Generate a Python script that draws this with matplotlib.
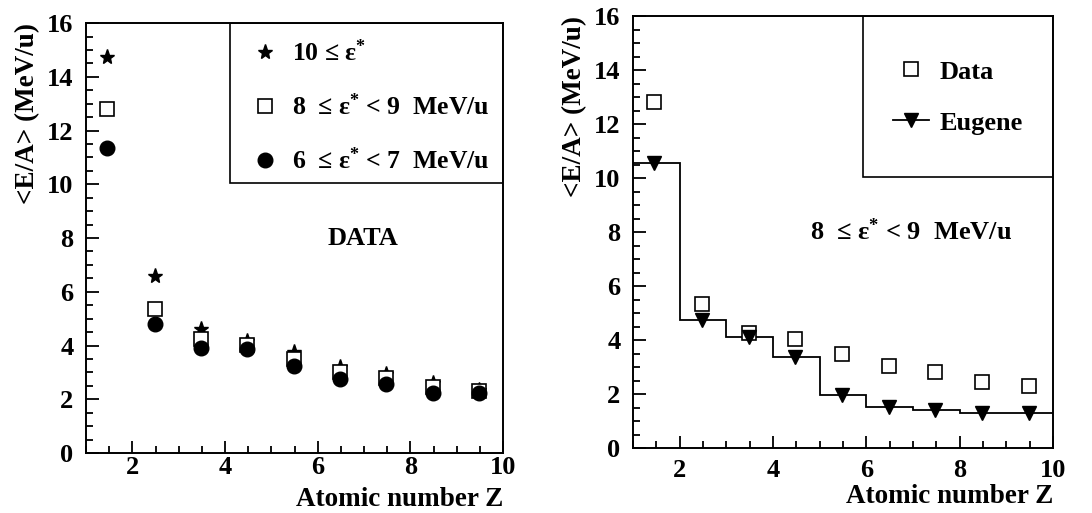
import matplotlib
matplotlib.use("Agg")
import matplotlib.pyplot as plt
from matplotlib.patches import Rectangle
from matplotlib.ticker import MultipleLocator
from matplotlib.lines import Line2D

# Mean atomic number of each fragment bin
z_mean = [1.45, 2.48, 3.48, 4.48, 5.48, 6.48, 7.48, 8.48, 9.48]
z_edges = [1, 2, 3, 4, 5, 6, 7, 8, 9, 10]

# <E/A> (MeV/u) for three excitation-energy windows
ea_eps10 = [14.75, 6.6, 4.6, 4.15, 3.75, 3.2, 2.95, 2.6, 2.35]
ea_eps8_9 = [12.8, 5.35, 4.25, 4.02, 3.5, 3.02, 2.8, 2.45, 2.3]
ea_eps6_7 = [11.35, 4.8, 3.92, 3.87, 3.22, 2.75, 2.55, 2.25, 2.22]

# EUGENE simulation for 8 <= eps* < 9 MeV/u
ea_eugene = [10.55, 4.75, 4.12, 3.38, 1.97, 1.53, 1.41, 1.28, 1.28]

plt.rcParams["font.family"] = ["Liberation Serif", "DejaVu Serif"]
plt.rcParams["font.weight"] = "bold"
plt.rcParams["mathtext.fontset"] = "custom"
plt.rcParams["mathtext.rm"] = "Liberation Serif:bold"
plt.rcParams["mathtext.it"] = "Liberation Serif:bold"
plt.rcParams["mathtext.bf"] = "Liberation Serif:bold"

fig = plt.figure(figsize=(10.92, 5.13), dpi=100)
ax1 = fig.add_axes([0.0788, 0.117, 0.382, 0.838])
ax2 = fig.add_axes([0.5797, 0.1267, 0.3846, 0.842])

TICK_FS = 19
LABEL_FS = 19.5
TEXT_FS = 18.5


def style_axes(ax, xpad, xlabelpad):
    ax.set_xlim(1, 10)
    ax.set_ylim(0, 16)
    ax.xaxis.set_major_locator(MultipleLocator(2))
    ax.xaxis.set_minor_locator(MultipleLocator(0.5))
    ax.yaxis.set_major_locator(MultipleLocator(2))
    ax.yaxis.set_minor_locator(MultipleLocator(0.5))
    ax.tick_params(which="both", direction="in", top=False, right=False,
                   width=1.3, labelsize=TICK_FS)
    ax.tick_params(which="major", length=9)
    ax.tick_params(which="minor", length=5)
    ax.tick_params(axis="y", which="major", pad=9)
    ax.tick_params(axis="x", which="major", pad=xpad)
    for s in ax.spines.values():
        s.set_linewidth(1.4)
    ax.set_xticks([2, 4, 6, 8, 10])
    ax.set_xticklabels(["2", "4", "6", "8", "10"], fontweight="bold")
    for lab in ax.get_yticklabels():
        lab.set_fontweight("bold")
    ax.set_xlabel("Atomic number Z", fontsize=LABEL_FS, fontweight="bold",
                  loc="right", labelpad=xlabelpad)
    ax.set_ylabel("<E/A> (MeV/u)", fontsize=LABEL_FS, fontweight="bold",
                  loc="top", labelpad=5)


# ---- left panel: measured data ----
style_axes(ax1, xpad=2, xlabelpad=6)
h_star, = ax1.plot(z_mean, ea_eps10, ls="none", marker="*", ms=11,
                   color="black", mec="black")
h_sq, = ax1.plot(z_mean, ea_eps8_9, ls="none", marker="s", ms=10,
                 mfc="white", mec="black", mew=1.2)
h_circ, = ax1.plot(z_mean, ea_eps6_7, ls="none", marker="o", ms=10.5,
                   color="black")
ax1.add_patch(Rectangle((0.345, 0.628), 0.655, 0.372, transform=ax1.transAxes,
                        fill=False, lw=1.2, ec="black", zorder=5))
ax1.legend([h_star, h_sq, h_circ],
           ["10 \u2264 \u03b5$^{*}$",
            "8  \u2264 \u03b5$^{*}$ < 9  MeV/u",
            "6  \u2264 \u03b5$^{*}$ < 7  MeV/u"],
           loc="upper left", bbox_to_anchor=(0.35, 1.01), frameon=False,
           handlelength=1.0, handletextpad=0.55,
           labelspacing=1.07, borderpad=0.3, prop={"weight": "bold", "size": TEXT_FS})
ax1.text(0.665, 0.5, "DATA", transform=ax1.transAxes, fontsize=19,
         fontweight="bold", ha="center", va="center")

# ---- right panel: data vs. EUGENE ----
style_axes(ax2, xpad=8, xlabelpad=1)
ax2.stairs(ea_eugene, z_edges, color="black", lw=1.3, baseline=None)
h_data, = ax2.plot(z_mean, ea_eps8_9, ls="none", marker="s", ms=10,
                   mfc="white", mec="black", mew=1.2, zorder=3)
ax2.plot(z_mean, ea_eugene, ls="none", marker="v", ms=10.5, color="black",
         zorder=4)
h_eug = Line2D([], [], color="black", lw=1.3, marker="v", ms=10.5)
ax2.add_patch(Rectangle((0.548, 0.627), 0.452, 0.373, transform=ax2.transAxes,
                        fill=False, lw=1.2, ec="black", zorder=5))
ax2.legend([h_data, h_eug], ["Data", "Eugene"], loc="upper left",
           bbox_to_anchor=(0.569, 0.947), frameon=False, handlelength=1.35,
           handletextpad=0.4, labelspacing=1.05, borderpad=0.3,
           prop={"weight": "bold", "size": 19})
ax2.text(0.662, 0.5, "8  \u2264 \u03b5$^{*}$ < 9  MeV/u", transform=ax2.transAxes,
         fontsize=19, fontweight="bold", ha="center", va="center")

fig.savefig("out.png", dpi=100)
